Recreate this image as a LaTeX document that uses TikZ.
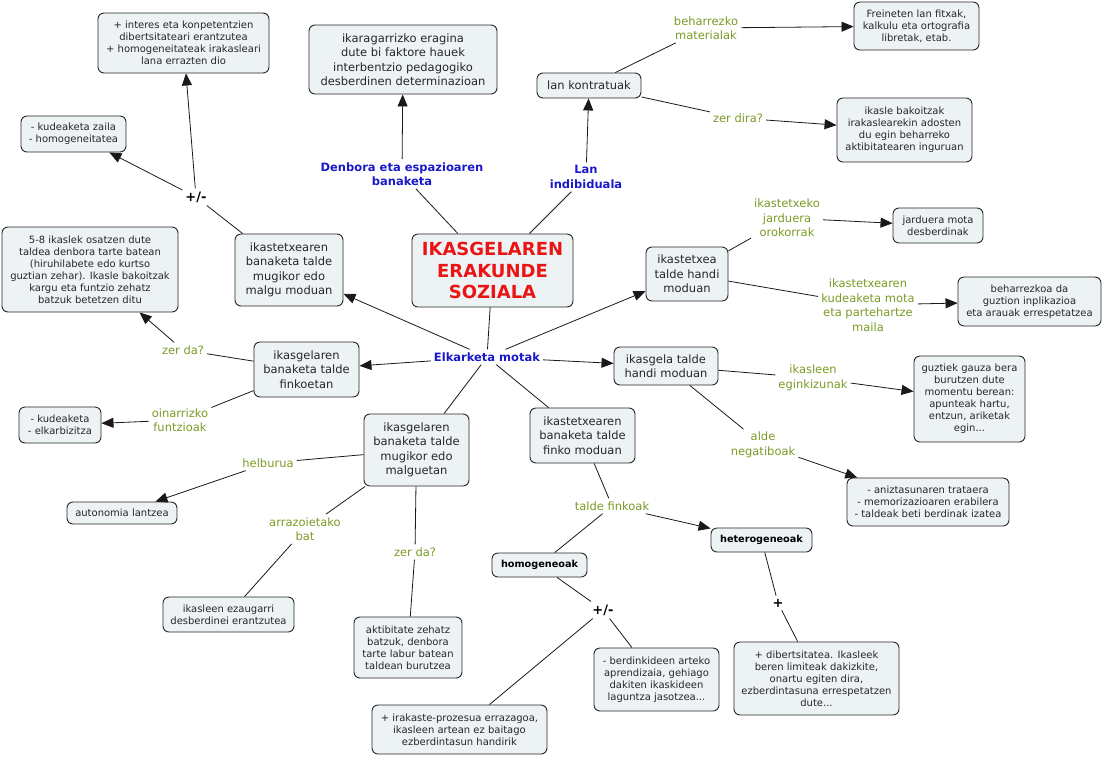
\documentclass[tikz,border=0pt]{standalone}
\usepackage{fontspec}
\setmainfont{DejaVu Sans}
\usetikzlibrary{arrows.meta}
\definecolor{boxfill}{RGB}{237,243,245}
\definecolor{lgreen}{RGB}{122,155,38}
\definecolor{lblue}{RGB}{25,25,200}
\definecolor{tred}{RGB}{235,20,20}
\begin{document}
\begin{tikzpicture}[x=1pt,y=-1pt,
  box/.style={draw=black!85, fill=boxfill, rounded corners=6pt, line width=0.9pt, align=center, inner sep=2pt, text=black!85, font=\fontsize{11.5}{14.5}\selectfont},
  sbox/.style={box, font=\fontsize{10}{12}\selectfont},
  bbox/.style={box, font=\fontsize{9.7}{12}\selectfont\bfseries, text=black},
  sz/.style 2 args={minimum width=#1, minimum height=#2},
  lbl/.style={text=lgreen, align=center, inner sep=3pt, font=\fontsize{11.5}{14.5}\selectfont},
  blbl/.style={text=lblue, align=center, inner sep=3pt, font=\fontsize{11.5}{14.5}\selectfont\bfseries},
  pm/.style={inner sep=3pt, font=\fontsize{13}{15}\selectfont\bfseries},
  con/.style={line width=0.8pt, draw=black!90},
  arr/.style={con, -{Triangle[length=12pt,width=10pt]}}
]
\useasboundingbox (0,0) rectangle (1103,756);

% boxes
\node[sbox, sz={171pt}{60pt}] (n1) at (183.5,43) {+ interes eta konpetentzien\\dibertsitateari erantzutea\\+ homogeneitateak irakasleari\\lana errazten dio};
\node[sbox, sz={105pt}{36pt}] (n2) at (73.5,134) {- kudeaketa zaila\\- homogeneitatea};
\node[box, sz={188pt}{69pt}] (n4) at (403,59.5) {ikaragarrizko eragina\\dute bi faktore hauek\\interbentzio pedagogiko\\desberdinen determinazioan};
\node[box, sz={104pt}{25pt}] (n6) at (589,85.5) {lan kontratuak};
\node[sbox, sz={125pt}{48pt}] (n9) at (916.5,26) {Freineten lan fitxak,\\kalkulu eta ortografia\\libretak, etab.};
\node[sbox, sz={135pt}{64pt}] (n11) at (904.5,130) {ikasle bakoitzak\\irakaslearekin adosten\\du egin beharreko\\aktibitatearen inguruan};
\node[sbox, sz={90pt}{35pt}] (n13) at (938,225.5) {jarduera mota\\desberdinak};
\node[sbox, sz={143pt}{49pt}] (n15) at (1029.5,301.5) {beharrezkoa da\\guztion inplikazioa\\eta arauak errespetatzea};
\node[sbox, sz={111pt}{86pt}] (n17) at (969.5,399) {guztiek gauza bera\\burutzen dute\\momentu berean:\\apunteak hartu,\\entzun, ariketak\\egin...};
\node[sbox, sz={162pt}{48pt}] (n19) at (928,502) {- aniztasunaren trataera\\- memorizazioaren erabilera\\- taldeak beti berdinak izatea};
\node[bbox, sz={101pt}{24pt}] (n20) at (761.5,540) {heterogeneoak};
\node[sbox, sz={165pt}{73pt}] (n22) at (816.5,678.5) {+ dibertsitatea. Ikasleek\\beren limiteak dakizkite,\\onartu egiten dira,\\ezberdintasuna errespetatzen\\dute...};
\node[box, sz={82pt}{54pt}] (n23) at (687,274) {ikastetxea\\talde handi\\moduan};
\node[box, sz={161pt}{73pt}, text=tred, font=\fontsize{18}{21.5}\selectfont\bfseries] (title) at (492.5,270.5) {IKASGELAREN\\ERAKUNDE\\SOZIALA};
\node[box, sz={104pt}{38pt}] (n26) at (666,366) {ikasgela talde\\handi moduan};
\node[box, sz={108pt}{72pt}] (n27) at (289,270) {ikastetxearen\\banaketa talde\\mugikor edo\\malgu moduan};
\node[sbox, sz={176pt}{85pt}] (n28) at (90,269.5) {5-8 ikaslek osatzen dute\\taldea denbora tarte batean\\(hiruhilabete edo kurtso\\guztian zehar). Ikasle bakoitzak\\kargu eta funtzio zehatz\\batzuk betetzen ditu};
\node[box, sz={105pt}{55pt}] (n30) at (306.5,369.5) {ikasgelaren\\banaketa talde\\finkoetan};
\node[sbox, sz={82pt}{36pt}] (n32) at (60,425) {- kudeaketa\\- elkarbizitza};
\node[box, sz={105pt}{72pt}] (n33) at (416.5,450) {ikasgelaren\\banaketa talde\\mugikor edo\\malguetan};
\node[sbox, sz={110pt}{22pt}] (n35) at (122,513) {autonomia lantzea};
\node[sbox, sz={131pt}{35pt}] (n37) at (228.5,614.5) {ikasleen ezaugarri\\desberdinei erantzutea};
\node[sbox, sz={108pt}{61pt}] (n39) at (408,647.5) {aktibitate zehatz\\batzuk, denbora\\tarte labur batean\\taldean burutzea};
\node[box, sz={105pt}{55pt}] (n40) at (582.5,435.5) {ikastetxearen\\banaketa talde\\finko moduan};
\node[bbox, sz={95pt}{24pt}] (n42) at (539.5,565) {homogeneoak};
\node[sbox, sz={175pt}{49pt}] (n44) at (459.5,729.5) {+ irakaste-prozesua errazagoa,\\ikasleen artean ez baitago\\ezberdintasun handirik};
\node[sbox, sz={125pt}{63pt}] (n45) at (656.5,679.5) {- berdinkideen arteko\\aprendizaia, gehiago\\dakiten ikaskideen\\laguntza jasotzea...};

% labels
\node[lbl] (L8) at (706,28) {beharrezko\\materialak};
\node[lbl] (L10) at (738,118) {zer dira?};
\node[lbl] (L12) at (787,218) {ikastetxeko\\jarduera\\orokorrak};
\node[lbl] (L14) at (868,305) {ikastetxearen\\kudeaketa mota\\eta partehartze\\maila};
\node[lbl] (L16) at (813,378) {ikasleen\\eginkizunak};
\node[lbl] (L18) at (763,445) {alde\\negatiboak};
\node[lbl] (L29) at (183,350) {zer da?};
\node[lbl] (L31) at (180,420) {oinarrizko\\funtzioak};
\node[lbl] (L34) at (268,463) {helburua};
\node[lbl] (L36) at (305,529) {arrazoietako\\bat};
\node[lbl] (L38) at (415,552) {zer da?};
\node[lbl] (L41) at (612,506) {talde finkoak};
\node[blbl] (B5) at (402,174) {Denbora eta espazioaren\\banaketa};
\node[blbl] (B7) at (586,177) {Lan\\indibiduala};
\node[blbl] (B25) at (487,357) {Elkarketa motak};
\node[pm] (P3) at (196,197) {+/-};
\node[pm] (P43) at (603,610) {+/-};
\node[pm] (P21) at (778,603) {+};

% connectors
\draw[arr] (P3) -- (n1);
\draw[arr] (P3) -- (n2);
\draw[con] (n27) -- (P3);
\draw[arr] (B5) -- (n4);
\draw[con] (title) -- (B5);
\draw[con] (title) -- (B7);
\draw[arr] (B7) -- (n6);
\draw[con] (n6) -- (L8);
\draw[arr] (L8) -- (n9);
\draw[con] (n6) -- (L10);
\draw[arr] (L10) -- (n11);
\draw[con] (title) -- (B25);
\draw[arr] (B25) -- (n27);
\draw[arr] (B25) -- (n30);
\draw[arr] (B25) -- (n23);
\draw[arr] (B25) -- (n26);
\draw[con] (B25) -- (n33);
\draw[con] (B25) -- (n40);
\draw[con] (n23) -- (L12);
\draw[arr] (L12) -- (n13);
\draw[con] (n23) -- (L14);
\draw[arr] (L14) -- (n15);
\draw[con] (n26) -- (L16);
\draw[arr] (L16) -- (n17);
\draw[con] (n26) -- (L18);
\draw[arr] (L18) -- (n19);
\draw[con] (n30) -- (L29);
\draw[arr] (L29) -- (n28);
\draw[con] (n30) -- (L31);
\draw[arr] (L31) -- (n32);
\draw[con] (n33) -- (L34);
\draw[arr] (L34) -- (n35);
\draw[con] (n33) -- (L36);
\draw[con] (L36) -- (n37);
\draw[con] (n33) -- (L38);
\draw[con] (L38) -- (n39);
\draw[con] (n40) -- (L41);
\draw[con] (L41) -- (n42);
\draw[arr] (L41) -- (n20);
\draw[con] (n42) -- (P43);
\draw[con] (P43) -- (n44);
\draw[con] (P43) -- (n45);
\draw[con] (n20) -- (P21);
\draw[con] (P21) -- (n22);
\end{tikzpicture}
\end{document}
